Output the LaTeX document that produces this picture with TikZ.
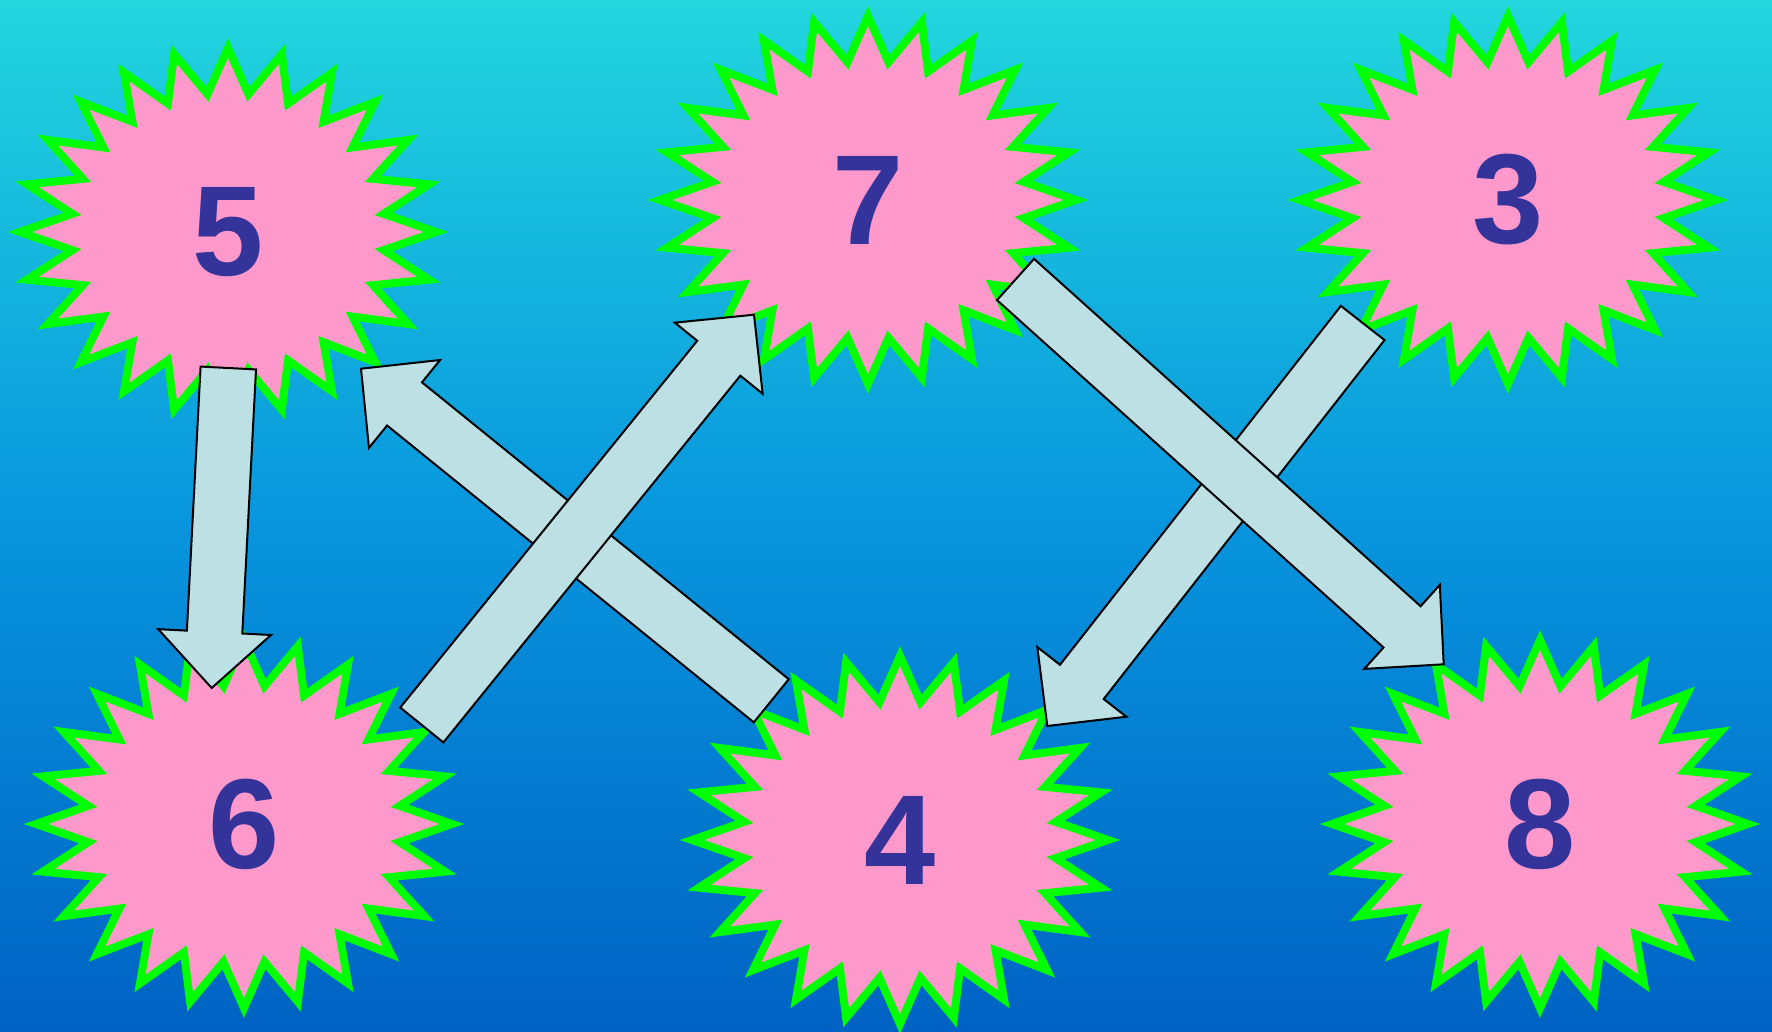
\documentclass[tikz,border=0pt]{standalone}
\usepackage{fontspec}
\newfontfamily\numfont{Liberation Sans}
\usetikzlibrary{calc}
\definecolor{bgtop}{RGB}{34,214,222}
\definecolor{bgmid}{RGB}{8,150,222}
\definecolor{bgbot}{RGB}{0,98,196}
\definecolor{burstfill}{RGB}{255,153,204}
\definecolor{burstline}{RGB}{0,255,0}
\definecolor{numblue}{RGB}{51,51,153}
\definecolor{arrowfill}{RGB}{188,224,228}
\tikzset{
 burst/.style={fill=burstfill, draw=burstline, line width=8pt, line join=miter},
 num/.style={font=\numfont\bfseries\fontsize{128pt}{130pt}\selectfont, text=numblue, inner sep=0pt},
 barrow/.style={fill=arrowfill, draw=black, line width=2pt, line join=miter}
}
\def\shw{27.75pt}
\def\hdw{56.5pt}
\def\hdl{56pt}
\newcommand\burstshape[2]{\draw[burst] ({#1},{#2-184}) \foreach \k in {1,...,47}{ -- ({#1+(208-51*mod(\k,2))*sin(\k*7.5)},{#2-(184-45*mod(\k,2))*cos(\k*7.5)}) } -- cycle;}
\newcommand\blockarrow[2]{\draw[barrow] ($(#1)!\shw!90:(#2)$) -- ($(#2)!\hdl!(#1)!\shw!-90:(#1)$) -- ($(#2)!\hdl!(#1)!\hdw!-90:(#1)$) -- (#2) -- ($(#2)!\hdl!(#1)!\hdw!90:(#1)$) -- ($(#2)!\hdl!(#1)!\shw!90:(#1)$) -- ($(#1)!\shw!-90:(#2)$) -- cycle;}
\begin{document}
\begin{tikzpicture}[x=1pt,y=-1pt]
\useasboundingbox (0,0) rectangle (1772,1032);
\shade[top color=bgtop, bottom color=bgbot, middle color=bgmid] (0,0) rectangle (1772,1032);
% bursts
\burstshape{228}{232}
\node[num] (s5) at (228,232) {5};
\burstshape{868}{200}
\node[num] (s7) at (868,200) {7};
\burstshape{1508}{200}
\node[num] (s3) at (1508,200) {3};
\burstshape{244}{824}
\node[num] (s6) at (244,824) {6};
\burstshape{900}{840}
\node[num] (s4) at (900,840) {4};
\burstshape{1540}{824}
\node[num] (s8) at (1540,824) {8};
% arrow ends
\coordinate (a1t) at (228.3,368);   \coordinate (a1h) at (211.7,688);
\coordinate (a2t) at (771.3,700.8); \coordinate (a2h) at (361,368.7);
\coordinate (a3t) at (421.8,725);   \coordinate (a3h) at (754,314.7);
\coordinate (a4t) at (1015.5,279.5);\coordinate (a4h) at (1443.7,664.3);
\coordinate (a5t) at (1362.7,323);  \coordinate (a5h) at (1047.3,726);
\blockarrow{a1t}{a1h}
\blockarrow{a2t}{a2h}
\blockarrow{a3t}{a3h}
\blockarrow{a5t}{a5h}
\blockarrow{a4t}{a4h}
\end{tikzpicture}
\end{document}
